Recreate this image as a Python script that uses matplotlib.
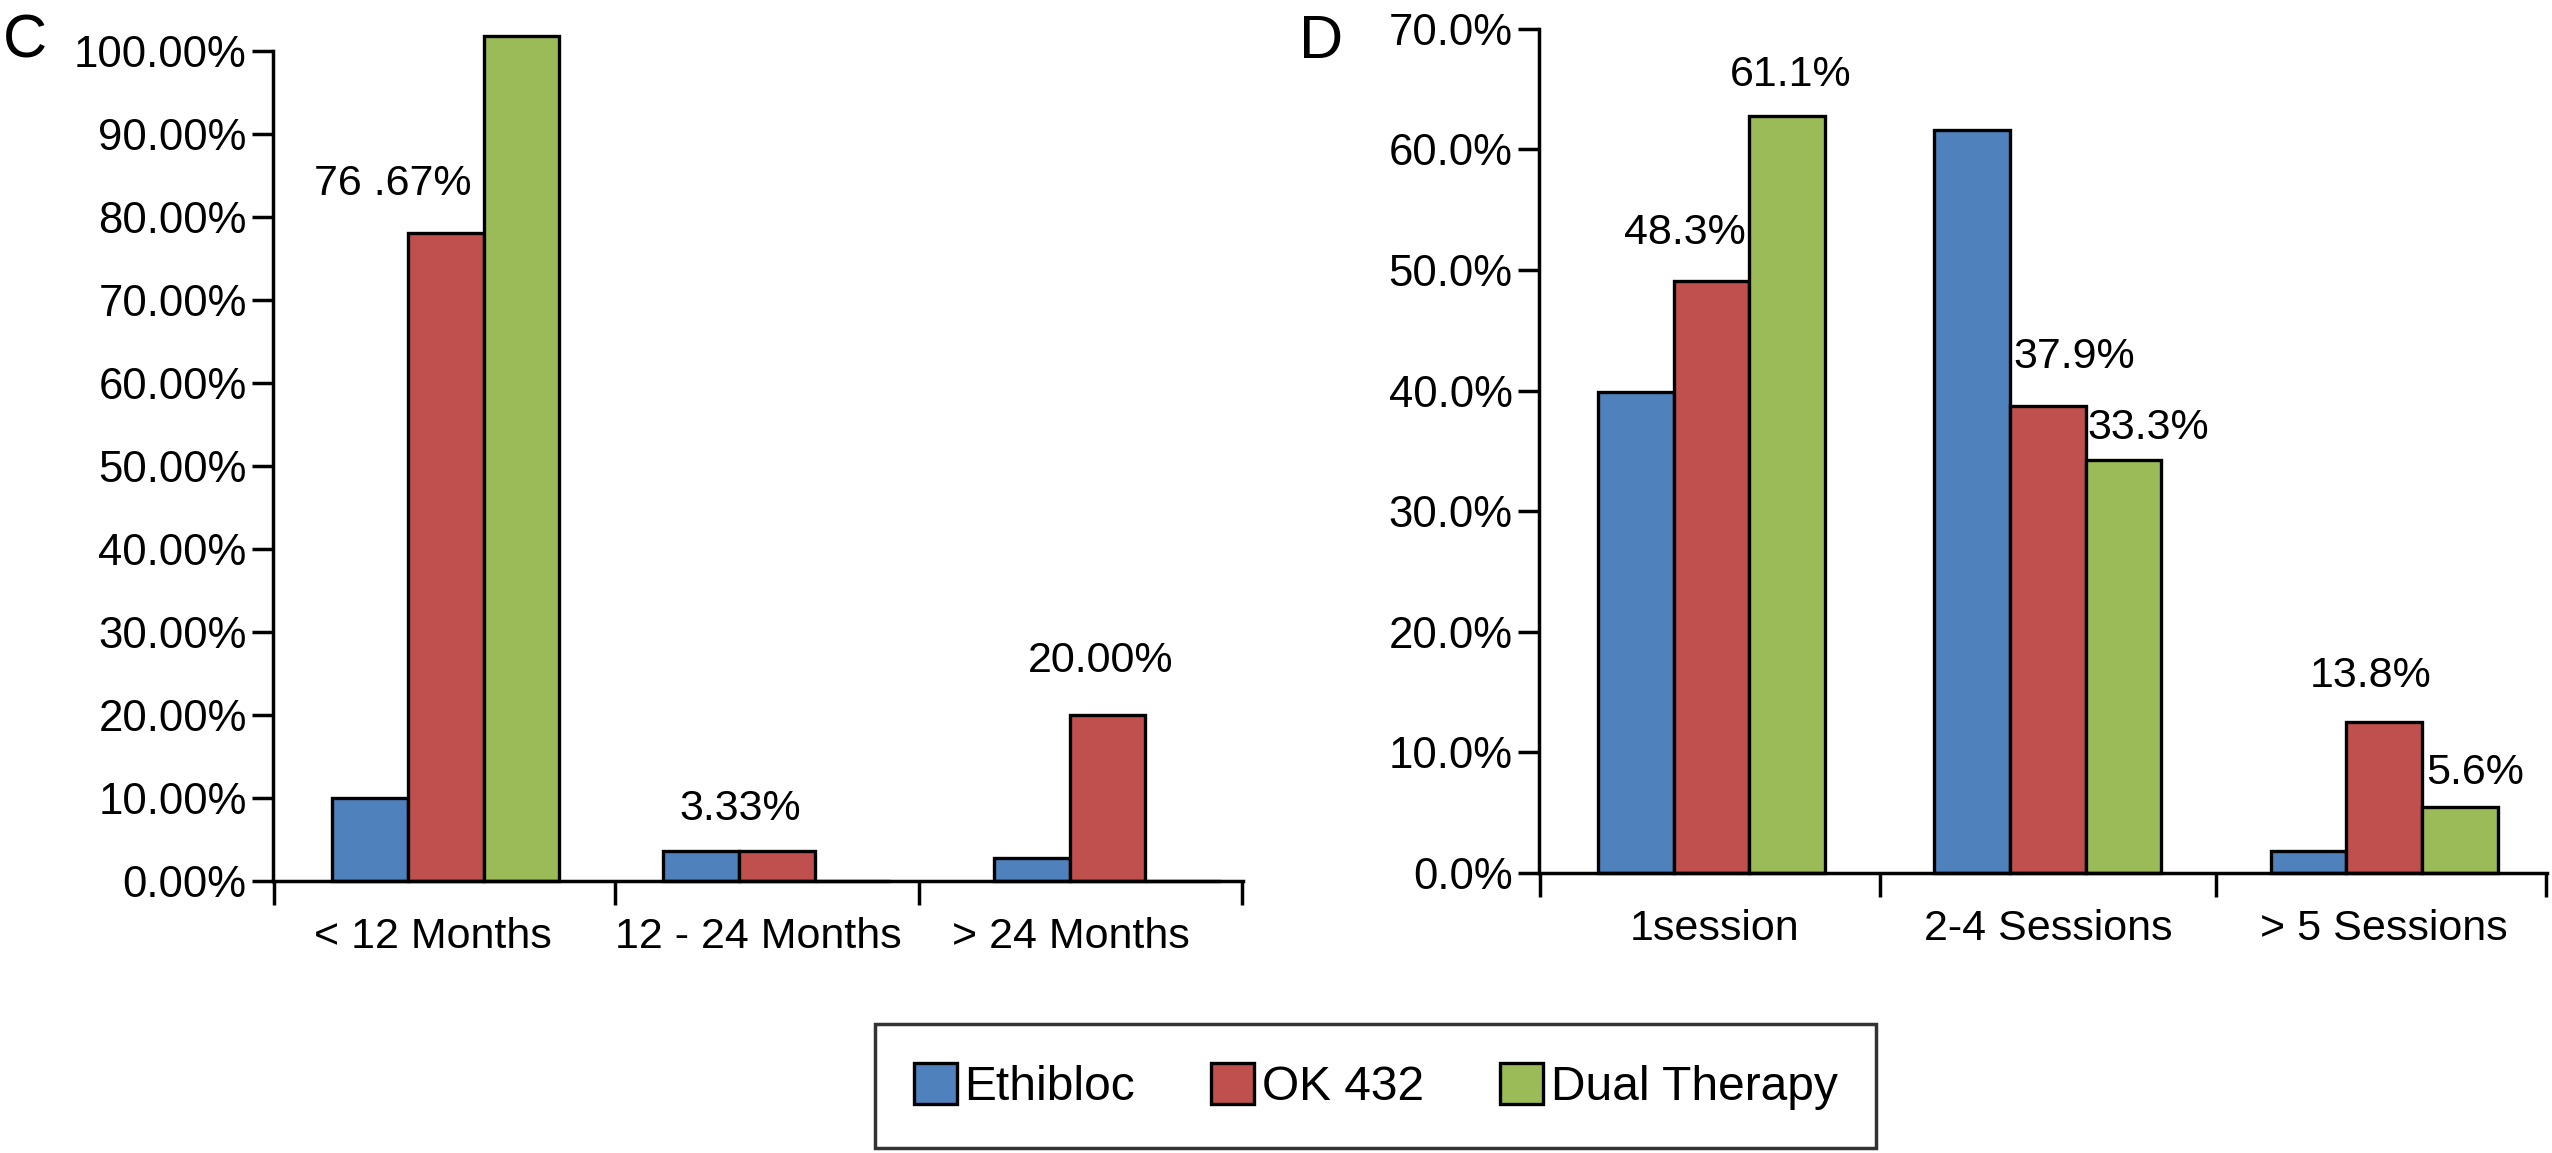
import matplotlib
matplotlib.use("Agg")
import matplotlib.pyplot as plt
from matplotlib.patches import Patch

plt.rcParams['font.family'] = ['Liberation Sans', 'DejaVu Sans']

# data
series = ['Ethibloc', 'OK 432', 'Dual Therapy']
colors = ['#4F81BD', '#C0504D', '#9BBB59']

c_cats = ['< 12 Months', '12 - 24 Months', '> 24 Months']
c_ethibloc = [10.0, 3.6, 2.7]
c_ok432 = [78.0, 3.6, 20.0]
c_dual = [101.8, 0.0, 0.0]
c_ticks = [0, 10, 20, 30, 40, 50, 60, 70, 80, 90, 100]
c_ticklabels = ['%.2f%%' % t for t in c_ticks]

d_cats = ['1session', '2-4 Sessions', '> 5 Sessions']
d_ethibloc = [39.9, 61.6, 1.8]
d_ok432 = [49.1, 38.7, 12.5]
d_dual = [62.8, 34.2, 5.5]
d_ticks = [0, 10, 20, 30, 40, 50, 60, 70]
d_ticklabels = ['%.1f%%' % t for t in d_ticks]

# value labels: (series index, category index, text, dx, dy)
c_labels = [(1, 0, '76 .67%', -0.16, 5.9), (0, 1, '3.33%', 0.12, 5.0), (1, 2, '20.00%', -0.02, 6.5)]
d_labels = [(1, 0, '48.3%', -0.08, 4.0), (2, 0, '61.1%', 0.01, 3.4), (1, 1, '37.9%', 0.08, 4.1),
            (2, 1, '33.3%', 0.075, 2.7), (1, 2, '13.8%', -0.04, 3.8), (2, 2, '5.6%', 0.045, 2.8)]

W = 2552
H = 1153
fig = plt.figure(figsize=(W / 100, H / 100), dpi=100)

def draw_panel(ax, cats, vals, ticks, ticklabels, labels, ymax, xlim, seps, label_x, width):
    for i, v in enumerate(vals):
        xs = [k + (i - 1) * width for k in range(len(cats))]
        ax.bar(xs, v, width=width, color=colors[i], edgecolor='black', linewidth=2.4,
               clip_on=False, zorder=3)
    ax.set_xlim(*xlim)
    ax.set_ylim(0, ymax)
    ax.spines['top'].set_visible(False)
    ax.spines['right'].set_visible(False)
    for s in ['left', 'bottom']:
        ax.spines[s].set_linewidth(2.5)
        ax.spines[s].set_zorder(4)
    ax.set_yticks(ticks)
    ax.set_yticklabels(ticklabels)
    ax.tick_params(axis='y', direction='out', length=15, width=2.5, labelsize=31.5, pad=4)
    ax.set_xticks(label_x)
    ax.set_xticklabels(cats)
    ax.tick_params(axis='x', which='major', length=0, labelsize=31, pad=26)
    ax.set_xticks(seps, minor=True)
    ax.tick_params(axis='x', which='minor', direction='out', length=17, width=2.5)
    for si, ci, txt, dx, dy in labels:
        v = vals[si][ci]
        ax.text(ci + (si - 1) * width + dx, v + dy, txt, ha='center', va='center',
                fontsize=31, zorder=6)

ax_c = fig.add_axes([0.107, 0.236, 0.380, 0.720])
draw_panel(ax_c, c_cats, [c_ethibloc, c_ok432, c_dual], c_ticks, c_ticklabels, c_labels,
           100, (-0.522, 2.409), [-0.52, 0.512, 1.429, 2.405], [-0.04, 0.945, 1.89], 0.229)

ax_d = fig.add_axes([0.603, 0.243, 0.395, 0.732])
draw_panel(ax_d, d_cats, [d_ethibloc, d_ok432, d_dual], d_ticks, d_ticklabels, d_labels,
           70, (-0.513, 2.484), [-0.511, 0.5, 1.5, 2.482], [0.01, 1.0, 2.0], 0.225)

fig.text(0.001, 0.988, 'C', fontsize=44, va='top', ha='left')
fig.text(0.509, 0.988, 'D', fontsize=44, va='top', ha='left')

handles = [Patch(facecolor=c, edgecolor='black', linewidth=2.4) for c in colors]
leg = fig.legend(handles, series, loc='center', bbox_to_anchor=(0.539, 0.058), ncol=3,
                 fontsize=34.5, frameon=True, fancybox=False, handlelength=0.9, handleheight=0.95,
                 handletextpad=0.15, columnspacing=1.6, borderpad=0.8)
leg.get_frame().set_edgecolor('black')
leg.get_frame().set_linewidth(2.5)

fig.savefig('out.png', dpi=100)
